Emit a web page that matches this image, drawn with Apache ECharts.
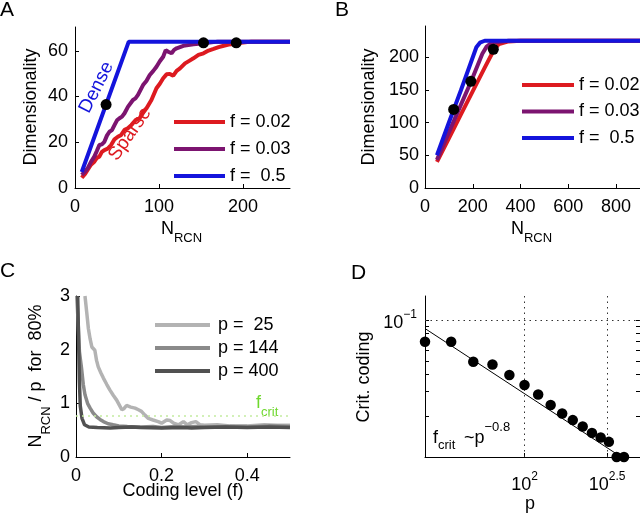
<!DOCTYPE html>
<html>
<head>
<meta charset="UTF-8">
<title>Dimensionality and critical coding level</title>
<script src="https://cdn.jsdelivr.net/npm/echarts@6/dist/echarts.min.js"></script>
<style>
  html, body { margin: 0; padding: 0; background: #fff; }
  #chart { width: 640px; height: 513px; }
</style>
</head>
<body>
<div id="chart"></div>
<script>
// ---- data ----
// A: p = 64
var legendF = ['f = 0.02', 'f = 0.03', 'f =  0.5'];
var aF002 = [[8,4.5],[12,6.2],[15,7.9],[19,10.2],[23,11.5],[26,13.2],[29,13.7],[32,15.8],[35,16.6],[39,17.2],[43,18.8],[47,21.3],[51,22.4],[55,23.2],[59,25.4],[63,26.1],[67,27.5],[72,29.6],[77,30.5],[81,33.2],[85,34.8],[91,38.5],[97,43.6],[101,45.6],[105,48],[109,49.7],[113,49.9],[117,49.1],[121,51.2],[125,52.3],[131,54.5],[136,55.6],[141,56.7],[147,58.2],[153,58.9],[159,60.1],[165,60.8],[171,61.6],[177,62.2],[183,62.7],[189,63],[193,63.3],[210,64],[256,64]];
var aF003 = [[8,5.7],[12,7.2],[15,8.6],[19,11.4],[23,13.7],[26,16.2],[29,18.8],[32,19.1],[35,20.2],[38,22.9],[41,24.6],[44,25.3],[47,27.5],[50,29.6],[53,30.5],[56,31.2],[59,32.7],[63,35.5],[69,38.5],[72,39.2],[75,40.7],[81,45],[85,46.8],[89,49.4],[93,51.1],[97,53],[101,55.4],[105,57.4],[108,60.3],[111,59.6],[115,58.9],[118,60.4],[121,61.1],[129,62.2],[141,62.8],[153,63.3],[170,64],[256,64]];
var aF05 = [[8,7],[64,64],[256,64]];
var aDots = [[37,36.5],[153,63.5],[192,63.5]];

// B: p = 225
var bF002 = [[50,40],[100,76],[150,112],[200,148],[250,184],[290,212],[310,220],[350,224],[400,225],[900,225]];
var bF003 = [[50,43],[100,85],[150,127],[192,162],[240,205],[258,216],[280,222],[350,225],[900,225]];
var bF05 = [[50,50],[100,100],[150,149],[215,215],[230,222],[250,225],[900,225]];
var bDots = [[120,120],[192,163],[286,212]];

// C: N_RCN / p for 80% vs coding level
var legendP = ['p =  25', 'p = 144', 'p = 400'];
var cP25 = [[0.021,3.0],[0.025,2.7],[0.029,2.39],[0.033,2.2],[0.037,2.05],[0.044,1.99],[0.048,1.8],[0.052,1.68],[0.058,1.57],[0.064,1.47],[0.072,1.35],[0.079,1.25],[0.087,1.15],[0.095,1.06],[0.101,0.97],[0.107,0.88],[0.112,0.9],[0.118,0.96],[0.128,0.93],[0.138,0.91],[0.146,0.88],[0.153,0.85],[0.161,0.78],[0.169,0.72],[0.18,0.69],[0.192,0.66],[0.2,0.63],[0.212,0.69],[0.22,0.68],[0.228,0.63],[0.24,0.6],[0.251,0.66],[0.26,0.6],[0.27,0.64],[0.28,0.66],[0.29,0.6],[0.3,0.59],[0.33,0.6],[0.36,0.58],[0.4,0.58],[0.44,0.6],[0.47,0.59],[0.5,0.59]];
var cP144 = [[0.002,3.0],[0.005,2.5],[0.008,1.96],[0.013,1.65],[0.017,1.35],[0.021,1.16],[0.027,1.0],[0.033,0.91],[0.04,0.82],[0.048,0.75],[0.056,0.7],[0.064,0.66],[0.075,0.62],[0.087,0.6],[0.1,0.58],[0.12,0.57],[0.15,0.56],[0.18,0.57],[0.2,0.55],[0.23,0.57],[0.25,0.56],[0.28,0.57],[0.3,0.56],[0.35,0.57],[0.4,0.56],[0.45,0.58],[0.5,0.57]];
var cP400 = [[0.004,3.0],[0.006,2.2],[0.008,1.4],[0.01,0.95],[0.014,0.72],[0.02,0.6],[0.03,0.56],[0.05,0.55],[0.08,0.54],[0.1,0.55],[0.13,0.56],[0.15,0.55],[0.2,0.54],[0.25,0.55],[0.27,0.54],[0.3,0.55],[0.35,0.56],[0.4,0.55],[0.45,0.56],[0.5,0.55]];
var cFcrit = 0.77;

// D: critical coding level vs p (log-log)
var dP = [25,36,49,64,81,100,121,144,169,196,225,256,289,324,361,400];
var dCrit = [0.0695,0.0695,0.0497,0.0474,0.0397,0.0336,0.0286,0.0240,0.0208,0.0186,0.0167,0.0150,0.0139,0.0129,0.01,0.01];
var dFit = [[25,0.0868],[400,0.0097]];
var dXTicks = [100, 316.2278];
var dYTicks = [0.02,0.03,0.04,0.05,0.06,0.07,0.08,0.09,0.1];

// ---- styling ----
var FONT = '"Liberation Sans", Arial, sans-serif';
var RED = '#dd1a20', PURPLE = '#7c1470', BLUE = '#1414dc';
var GRAY1 = '#b3b3b3', GRAY2 = '#8a8a8a', GRAY3 = '#515151';

function axis(grid, min, max, ticks, margin, extra) {
  var o = {
    gridIndex: grid, type: 'value', min: min, max: max,
    axisLine: { show: true, onZero: false, lineStyle: { color: '#000', width: 1 } },
    axisTick: { show: true, inside: true, length: 4, customValues: ticks, lineStyle: { color: '#000' } },
    axisLabel: { customValues: ticks, margin: margin, color: '#000', fontSize: 18, fontFamily: FONT },
    splitLine: { show: false }
  };
  if (extra) {
    for (var k in extra) {
      if (o[k] && typeof o[k] === 'object' && !Array.isArray(o[k])) Object.assign(o[k], extra[k]);
      else o[k] = extra[k];
    }
  }
  return o;
}

// superscript: base bottom-aligned in a taller line, exponent top-aligned
var supRich = {
  b: { fontSize: 18, lineHeight: 23, verticalAlign: 'bottom', fontFamily: FONT, color: '#000' },
  s: { fontSize: 12, verticalAlign: 'top', fontFamily: FONT, color: '#000' }
};
// subscript: base top-aligned, index bottom-aligned in a taller line
var subRich = {
  n: { fontSize: 18, verticalAlign: 'top', fontFamily: FONT },
  s: { fontSize: 13, lineHeight: 25.5, verticalAlign: 'bottom', fontFamily: FONT }
};

function txt(x, y, text, size, color, rotDeg, align, valign, rich) {
  return {
    type: 'text', x: x, y: y, rotation: (rotDeg || 0) * Math.PI / 180, silent: true,
    style: { text: text, fontSize: size, fontFamily: FONT, fill: color || '#000',
             align: align || 'center', verticalAlign: valign || 'middle', rich: rich }
  };
}

function line(name, data, color, xi, yi, width) {
  return { type: 'line', name: name, data: data, xAxisIndex: xi, yAxisIndex: yi,
           symbol: 'none', lineStyle: { color: color, width: width }, itemStyle: { color: color },
           z: 3 };
}
function dots(data, xi, yi, size) {
  return { type: 'scatter', data: data, xAxisIndex: xi, yAxisIndex: yi, symbolSize: size,
           itemStyle: { color: '#000', opacity: 1 }, z: 5 };
}

var legendBase = {
  orient: 'vertical', itemHeight: 18, selectedMode: false,
  textStyle: { fontSize: 18, color: '#000', fontFamily: FONT },
  itemStyle: { opacity: 0 },
  lineStyle: { width: 4 }
};

var chart = echarts.init(document.getElementById('chart'), null, { renderer: 'canvas' });

var option = {
  animation: false,
  backgroundColor: '#fff',
  grid: [
    { left: 75, top: 27, width: 215, height: 161 },
    { left: 425, top: 26, width: 215, height: 162 },
    { left: 76, top: 296, width: 214, height: 161 },
    { left: 425, top: 296, width: 215, height: 161 }
  ],
  xAxis: [
    axis(0, 0, 256, [0, 100, 200], 10),
    axis(1, 0, 900, [0, 200, 400, 600, 800], 10),
    axis(2, 0, 0.5, [0, 0.2, 0.4], 10),
    axis(3, 25, 500, dXTicks, 14, {
      type: 'log',
      axisLabel: { formatter: function (v) { return v > 200 ? '{b|10}{s|2.5}' : '{b|10}{s|2}'; }, rich: supRich }
    })
  ],
  yAxis: [
    axis(0, 0, 70.4, [0, 20, 40, 60], 7),
    axis(1, 0, 247.5, [0, 50, 100, 150, 200], 6),
    axis(2, 0, 3, [0, 1, 2, 3], 6),
    axis(3, 0.01, 0.15, dYTicks, 8, {
      type: 'log',
      axisLabel: { customValues: [0.1], formatter: function () { return '{b|10}{s|\u22121}'; }, rich: supRich }
    }),
    axis(3, 0.01, 0.15, dYTicks, 8, {
      type: 'log', position: 'right',
      axisLabel: { show: false }
    })
  ],
  legend: [
    Object.assign({}, legendBase, { data: legendF, left: 167, top: 108, itemWidth: 51, itemGap: 9 }),
    Object.assign({}, legendBase, { data: legendF, left: 515, top: 71, itemWidth: 52, itemGap: 8.5 }),
    Object.assign({}, legendBase, { data: legendP, left: 148, top: 311, itemWidth: 55, itemGap: 5,
      textStyle: { fontSize: 18, color: '#000', fontFamily: FONT, padding: [0, 0, 0, 3] } })
  ],
  series: [
    line(legendF[0], aF002, RED, 0, 0, 4),
    line(legendF[1], aF003, PURPLE, 0, 0, 4),
    line(legendF[2], aF05, BLUE, 0, 0, 4),
    dots(aDots, 0, 0, 11),

    line(legendF[0], bF002, RED, 1, 1, 4),
    line(legendF[1], bF003, PURPLE, 1, 1, 4),
    line(legendF[2], bF05, BLUE, 1, 1, 4),
    dots(bDots, 1, 1, 11),

    line(legendP[0], cP25, GRAY1, 2, 2, 3.5),
    line(legendP[1], cP144, GRAY2, 2, 2, 3.5),
    {
      type: 'line', name: legendP[2], data: cP400, xAxisIndex: 2, yAxisIndex: 2,
      symbol: 'none', lineStyle: { color: GRAY3, width: 3.5 }, itemStyle: { color: GRAY3 }, z: 3,
      markLine: {
        silent: true, symbol: ['none', 'none'], label: { show: false },
        lineStyle: { color: '#c4eca0', type: [2, 4], width: 1.5 },
        data: [{ yAxis: cFcrit }]
      }
    },

    {
      type: 'line', data: dFit, xAxisIndex: 3, yAxisIndex: 3, symbol: 'none',
      lineStyle: { color: '#000', width: 1 }, z: 4
    },
    {
      type: 'scatter', data: dP.map(function (p, i) { return [p, dCrit[i]]; }),
      xAxisIndex: 3, yAxisIndex: 3, symbolSize: 10.5, itemStyle: { color: '#000', opacity: 1 }, z: 5,
      markLine: {
        silent: true, symbol: ['none', 'none'], label: { show: false },
        lineStyle: { color: '#333', type: [1.5, 4], width: 1 },
        data: [{ xAxis: dXTicks[0] }, { xAxis: dXTicks[1] }, { yAxis: 0.1 }]
      }
    }
  ],
  graphic: [
    txt(0, 0, 'A', 21, '#000', 0, 'left', 'top'),
    txt(335, 0, 'B', 21, '#000', 0, 'left', 'top'),
    txt(0, 261, 'C', 21, '#000', 0, 'left', 'top'),
    txt(351, 263, 'D', 21, '#000', 0, 'left', 'top'),

    txt(31, 107, 'Dimensionality', 18, '#000', 90),
    txt(369, 107, 'Dimensionality', 18, '#000', 90),
    txt(40, 376, '{n|N}{s|RCN}{n| / p  for  80%}', 18, '#000', 90, 'center', 'middle', subRich),
    txt(364, 377, 'Crit. coding', 18, '#000', 90),

    txt(181.5, 232.5, '{n|N}{s|RCN}', 18, '#000', 0, 'center', 'middle', subRich),
    txt(531.5, 232.5, '{n|N}{s|RCN}', 18, '#000', 0, 'center', 'middle', subRich),
    txt(183, 491, 'Coding level (f)', 18, '#000'),
    txt(530, 504, 'p', 18, '#000'),

    txt(96.5, 87.5, 'Dense', 19, BLUE, 63),
    txt(130, 134, 'Sparse', 19, RED, 55),

    txt(256, 394, '{b|f}{s|crit}', 18, '#6fd82e', 0, 'left', 'top', {
      b: { fontSize: 18, verticalAlign: 'top', fontFamily: FONT },
      s: { fontSize: 13, lineHeight: 25, verticalAlign: 'bottom', fontFamily: FONT }
    }),
    txt(433, 429.5, '{b|f}{s|crit}', 18, '#000', 0, 'left', 'top', {
      b: { fontSize: 18, verticalAlign: 'top', fontFamily: FONT },
      s: { fontSize: 13, lineHeight: 22.5, verticalAlign: 'bottom', fontFamily: FONT }
    }),
    txt(464, 421, '{b|~p}{u|\u22120.8}', 18, '#000', 0, 'left', 'top', {
      b: { fontSize: 18, lineHeight: 26.5, verticalAlign: 'bottom', fontFamily: FONT },
      u: { fontSize: 13, verticalAlign: 'top', fontFamily: FONT }
    })
  ]
};

chart.setOption(option);
</script>
</body>
</html>
